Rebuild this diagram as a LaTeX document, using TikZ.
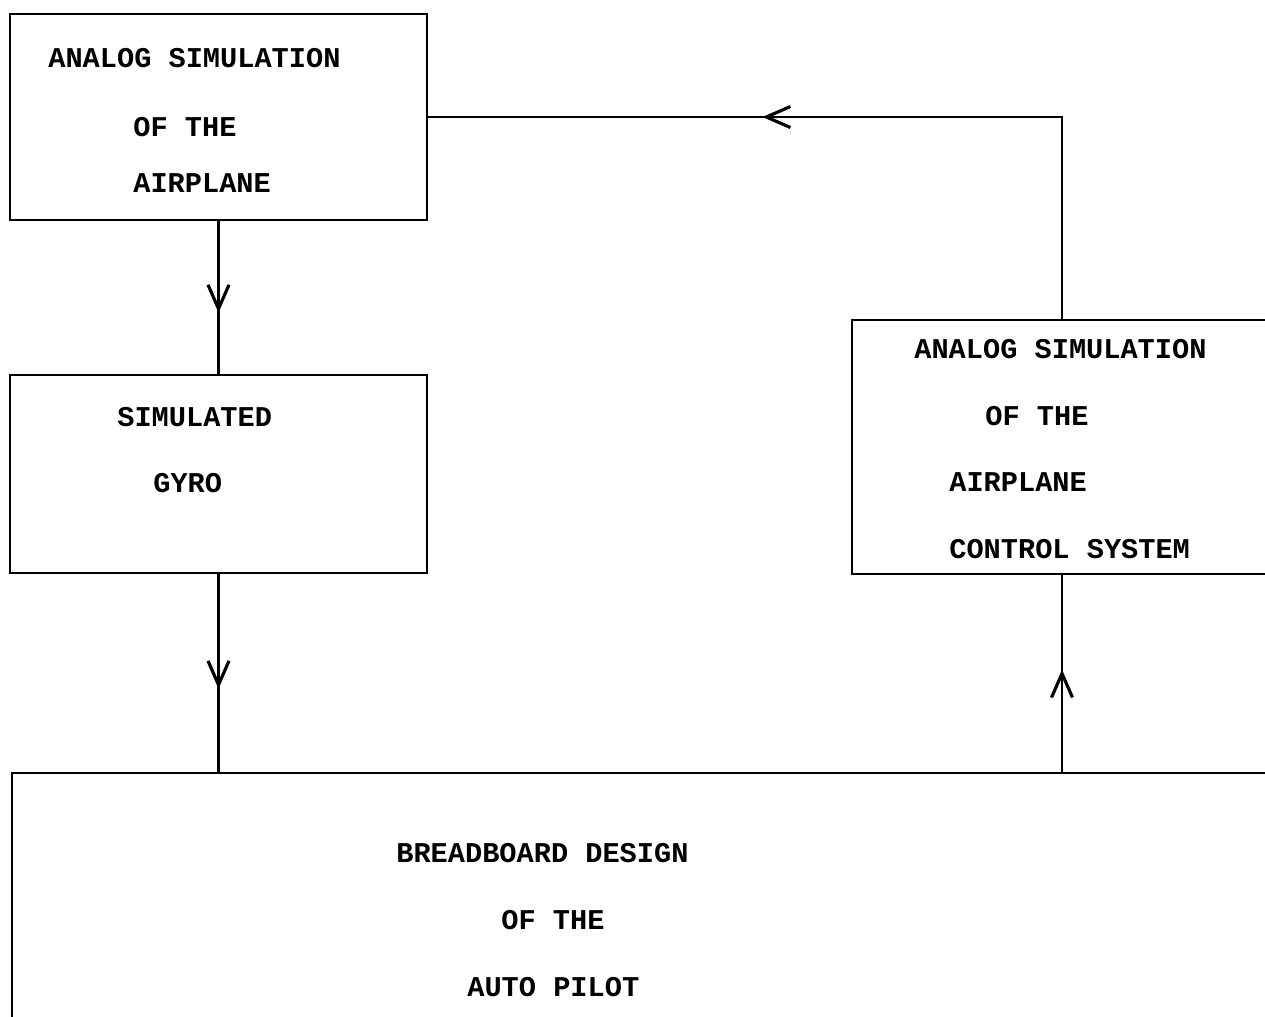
\documentclass[tikz,border=0pt]{standalone}
\usepackage{fontspec}
\setmonofont{Liberation Mono}
\usepackage{tikz}
\usetikzlibrary{positioning,arrows.meta,calc,decorations.markings}

\begin{document}
\begin{tikzpicture}[
  x=0.02cm, y=-0.02cm,
  blk/.style={draw, line width=1.5pt, inner sep=0pt},
  txt/.style={font=\ttfamily\bfseries\fontsize{16.3}{20}\selectfont, anchor=west, inner sep=0pt},
  flow/.style={line width=1.2pt, postaction={decorate}, decoration={markings,
    mark=at position #1 with {\arrow{Straight Barb[length=4.8mm, width=4.2mm, line width=1.8pt]}}}},
]
\useasboundingbox (0,0) rectangle (1265,1017);
\clip (0,0) rectangle (1265,1017);

% The four blocks (the right and bottom ones run off the page).
\node[blk, minimum width=8.34cm, minimum height=4.12cm] (air)   at (218.5,117) {};
\node[blk, minimum width=8.34cm, minimum height=3.96cm] (gyro)  at (218.5,474) {};
\node[blk, minimum width=8.40cm, minimum height=5.08cm] (ctrl)  at (1062,447)  {};
\node[blk, minimum width=25.4cm, minimum height=5.40cm] (bread) at (647,908)   {};

% Typed labels, line by line.
\node[txt] (airA) at (48,58)   {ANALOG SIMULATION};
\node[txt] (airB) at (133,127) {OF THE};
\node[txt] (airC) at (133,183) {AIRPLANE};

\node[txt] (gyroA) at (117,417) {SIMULATED};
\node[txt] (gyroB) at (153,483) {GYRO};

\node[txt] (ctrlA) at (914,349) {ANALOG SIMULATION};
\node[txt] (ctrlB) at (985,416) {OF THE};
\node[txt] (ctrlC) at (949,482) {AIRPLANE};
\node[txt] (ctrlD) at (949,549) {CONTROL SYSTEM};

\node[txt] (breadA) at (396,853) {BREADBOARD DESIGN};
\node[txt] (breadB) at (501,920) {OF THE};
\node[txt] (breadC) at (467,987) {AUTO PILOT};

% Signal paths with mid-line arrowheads.
\coordinate (corner) at (ctrl.north |- air.east);
\draw[flow=0.6] (air.south) -- (gyro.north);
\draw[flow=0.58] (gyro.south) -- (gyro.south |- bread.north);
\draw[flow=0.52] (bread.north -| ctrl.south) -- (ctrl.south);
\draw[flow=0.6] (ctrl.north) -- (corner) -- (air.east);

\end{tikzpicture}
\end{document}
